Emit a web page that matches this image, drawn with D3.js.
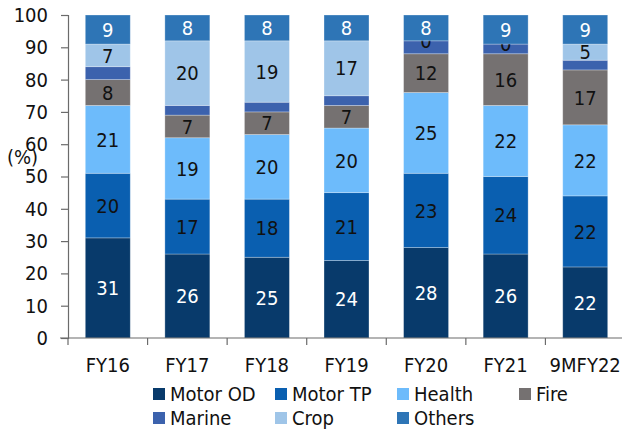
<!DOCTYPE html>
<html>
<head>
<meta charset="utf-8">
<script src="https://cdn.jsdelivr.net/npm/d3@7"></script>
<style>
  html, body { margin: 0; padding: 0; background: #fff; }
  svg { display: block; }
  text { font-family: "Liberation Sans Narrow", "Arial Narrow", "DejaVu Sans Condensed", sans-serif; fill: #111; }
</style>
</head>
<body>
<svg id="chart" width="622" height="432"></svg>
<script>
const categories = ["FY16", "FY17", "FY18", "FY19", "FY20", "FY21", "9MFY22"];
const seriesNames = ["Motor OD", "Motor TP", "Health", "Fire", "Marine", "Crop", "Others"];
const motorOD  = [31, 26, 25, 24, 28, 26, 22];
const motorTP  = [20, 17, 18, 21, 23, 24, 22];
const health   = [21, 19, 20, 20, 25, 22, 22];
const fire     = [8, 7, 7, 7, 12, 16, 17];
const marine   = [4, 3, 3, 3, 4, 3, 3];
const crop     = [7, 20, 19, 17, 0, 0, 5];
const others   = [9, 8, 8, 8, 8, 9, 9];
const yTicks   = [0, 10, 20, 30, 40, 50, 60, 70, 80, 90, 100];

const seriesValues = [motorOD, motorTP, health, fire, marine, crop, others];
const colors = ["#083a6b", "#0a5fb0", "#6dbbfb", "#757171", "#3c62ad", "#9fc5e8", "#2e75b6"];
const labelColors = ["#ffffff", "#111111", "#111111", "#111111", null, "#111111", "#ffffff"];

const table = categories.map((c, i) => {
  const row = { cat: c };
  seriesNames.forEach((s, j) => row[s] = seriesValues[j][i]);
  return row;
});
const stacked = d3.stack().keys(seriesNames)(table);

const svg = d3.select("#chart");
const x = d3.scaleBand().domain(categories).range([68, 625]).paddingInner(0.435).paddingOuter(0.2175);
const y = d3.scaleLinear().domain([0, 100]).range([338, 15]);

// bars + labels per series
stacked.forEach((layer, j) => {
  const g = svg.append("g");
  g.selectAll("rect").data(layer).join("rect")
    .attr("x", d => x(d.data.cat))
    .attr("width", x.bandwidth())
    .attr("y", d => y(d[1]))
    .attr("height", d => y(d[0]) - y(d[1]))
    .attr("fill", colors[j])
    .attr("stroke", "rgba(255,255,255,0.35)")
    .attr("stroke-width", 0.8);
  if (labelColors[j]) {
    g.selectAll("text").data(layer).join("text")
      .attr("x", d => x(d.data.cat) + x.bandwidth() / 2)
      .attr("y", d => y((d[0] + d[1]) / 2))
      .attr("dy", "0.36em")
      .attr("text-anchor", "middle")
      .style("font-size", "20px")
      .style("fill", labelColors[j])
      .text(d => d[1] - d[0]);
  }
});

// y axis
const yAxis = d3.axisLeft(y).tickValues(yTicks).tickSize(7).tickPadding(13).tickFormat(d3.format("d"));
const ya = svg.append("g").attr("transform", "translate(68,0)").call(yAxis);
ya.select(".domain").attr("stroke", "#6b6b6b").attr("stroke-width", 1.2);
ya.selectAll(".tick line").attr("stroke", "#6b6b6b").attr("stroke-width", 1.2);
ya.selectAll(".tick text").style("font-size", "20px").style("font-family", null).attr("fill", "#111");

// x axis
const xa = svg.append("g").attr("transform", "translate(0,338)");
xa.append("line").attr("x1", 60).attr("x2", 625).attr("stroke", "#6b6b6b").attr("stroke-width", 1.2);
const step = x.step();
const boundaries = d3.range(categories.length).map(i => x(categories[i]) - x.paddingOuter() * step);
xa.selectAll(".xt").data(boundaries).join("line")
  .attr("class", "xt")
  .attr("x1", d => d).attr("x2", d => d)
  .attr("y1", 0).attr("y2", 7)
  .attr("stroke", "#6b6b6b").attr("stroke-width", 1.2);
xa.selectAll(".xl").data(categories).join("text")
  .attr("class", "xl")
  .attr("x", d => x(d) + x.bandwidth() / 2)
  .attr("y", 34)
  .attr("text-anchor", "middle")
  .style("font-size", "20px")
  .text(d => d);

// (%) label
svg.append("text").attr("x", 7).attr("y", 164).style("font-size", "20px").text("(%)");

// legend
const legCols = [153, 275, 397, 519];
const legRows = [394, 418];
const leg = svg.append("g");
seriesNames.forEach((s, j) => {
  const cx = legCols[j % 4], cy = legRows[Math.floor(j / 4)];
  leg.append("rect").attr("x", cx).attr("y", cy - 6).attr("width", 12).attr("height", 12).attr("fill", colors[j]);
  leg.append("text").attr("x", cx + 17).attr("y", cy).attr("dy", "0.36em").style("font-size", "20px").text(s);
});
</script>
</body>
</html>
